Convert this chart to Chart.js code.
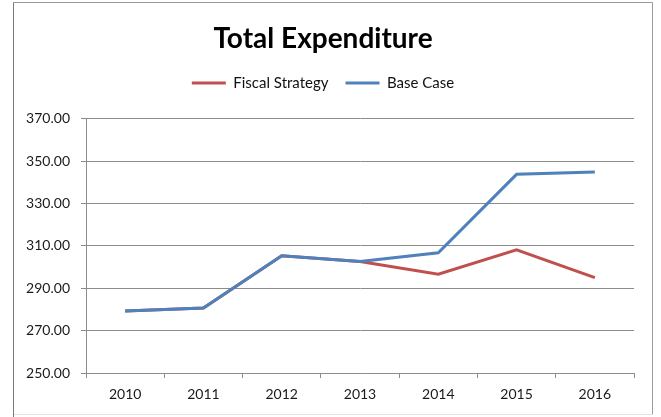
<!DOCTYPE html>
<html>
<head>
<meta charset="utf-8">
<script src="https://cdn.jsdelivr.net/npm/chart.js@4/dist/chart.umd.min.js"></script>
<style>
  html, body { margin: 0; padding: 0; background: #ffffff; }
  #wrap { position: relative; width: 661px; height: 417px; }
</style>
</head>
<body>
<div id="wrap"><canvas id="chart" width="661" height="417"></canvas></div>
<script>
// Years on the category axis
const years = ['2010', '2011', '2012', '2013', '2014', '2015', '2016'];
// Total expenditure under each scenario
const fiscalStrategy = [279.2, 280.7, 305.3, 302.6, 296.6, 308.1, 295.0];
const baseCase = [279.2, 280.7, 305.3, 302.6, 306.7, 343.7, 344.8];
// Value axis range and step
const yMin = 250;
const yMax = 370;
const yStep = 20;

const FONT = 'Lato, "Open Sans", sans-serif';
const GRID = '#8c8c8c';

// Thin frame round the whole chart
const framePlugin = {
  id: 'frame',
  afterDraw(chart) {
    const ctx = chart.ctx;
    ctx.save();
    ctx.lineWidth = 1;
    ctx.strokeStyle = '#9a9a9a';
    ctx.beginPath();
    ctx.moveTo(13.5, 2.5); ctx.lineTo(652.5, 2.5); ctx.lineTo(652.5, 414.5);
    ctx.stroke();
    ctx.strokeStyle = '#e4e4e4';
    ctx.beginPath();
    ctx.moveTo(652.5, 414.5); ctx.lineTo(13.5, 414.5);
    ctx.stroke();
    ctx.strokeStyle = '#7a7a7a';
    ctx.beginPath();
    ctx.moveTo(13.5, 2.5); ctx.lineTo(13.5, 417);
    ctx.stroke();
    ctx.restore();
  }
};

// Give the legend a fixed band height so the plot sits below it
const legendBand = {
  id: 'legendBand',
  afterInit(chart) {
    const lg = chart.legend;
    if (!lg) return;
    const fit = lg.fit.bind(lg);
    lg.fit = function () { fit(); this.height = 60; };
  }
};

new Chart(document.getElementById('chart'), {
  type: 'line',
  data: {
    labels: years,
    datasets: [
      {
        label: 'Fiscal Strategy',
        data: fiscalStrategy,
        borderColor: '#c0504d',
        backgroundColor: '#c0504d',
        borderWidth: 3,
        pointRadius: 0,
        tension: 0,
        order: 1
      },
      {
        label: 'Base Case',
        data: baseCase,
        borderColor: '#4f81bd',
        backgroundColor: '#4f81bd',
        borderWidth: 3,
        pointRadius: 0,
        tension: 0,
        order: 0
      }
    ]
  },
  options: {
    responsive: false,
    animation: false,
    layout: { padding: { left: 12, right: 27, top: 0, bottom: 14 } },
    plugins: {
      title: {
        display: true,
        text: 'Total Expenditure',
        color: '#000000',
        font: { family: FONT, size: 28, weight: 'bold' },
        padding: { top: 22, bottom: 3 }
      },
      legend: {
        display: true,
        position: 'top',
        labels: {
          boxWidth: 34,
          boxHeight: 3,
          padding: 17,
          color: '#111111',
          font: { family: FONT, size: 15 },
          sort: (a, b) => a.datasetIndex - b.datasetIndex,
          // legend swatch is a plain 3px bar, no outline
          generateLabels(chart) {
            const items = Chart.defaults.plugins.legend.labels.generateLabels(chart);
            items.forEach((it) => { it.lineWidth = 0; });
            return items;
          }
        }
      },
      tooltip: { enabled: false }
    },
    scales: {
      x: {
        offset: true,
        grid: {
          display: true,
          offset: true,
          drawOnChartArea: false,
          drawTicks: true,
          tickLength: 5,
          color: GRID
        },
        border: { color: GRID, width: 1 },
        ticks: {
          color: '#1a1a1a',
          padding: 8,
          maxRotation: 0,
          font: { family: FONT, size: 14 }
        },
        afterFit(scale) { scale.height = 30; }
      },
      y: {
        min: yMin,
        max: yMax,
        grid: {
          color: GRID,
          drawTicks: true,
          tickLength: 5
        },
        border: { color: GRID, width: 1 },
        ticks: {
          stepSize: yStep,
          color: '#1a1a1a',
          padding: 11,
          font: { family: FONT, size: 14 },
          callback: (v) => Number(v).toFixed(2)
        },
        afterFit(scale) { scale.width = 74; }
      }
    }
  },
  plugins: [framePlugin, legendBand]
});
</script>
</body>
</html>
